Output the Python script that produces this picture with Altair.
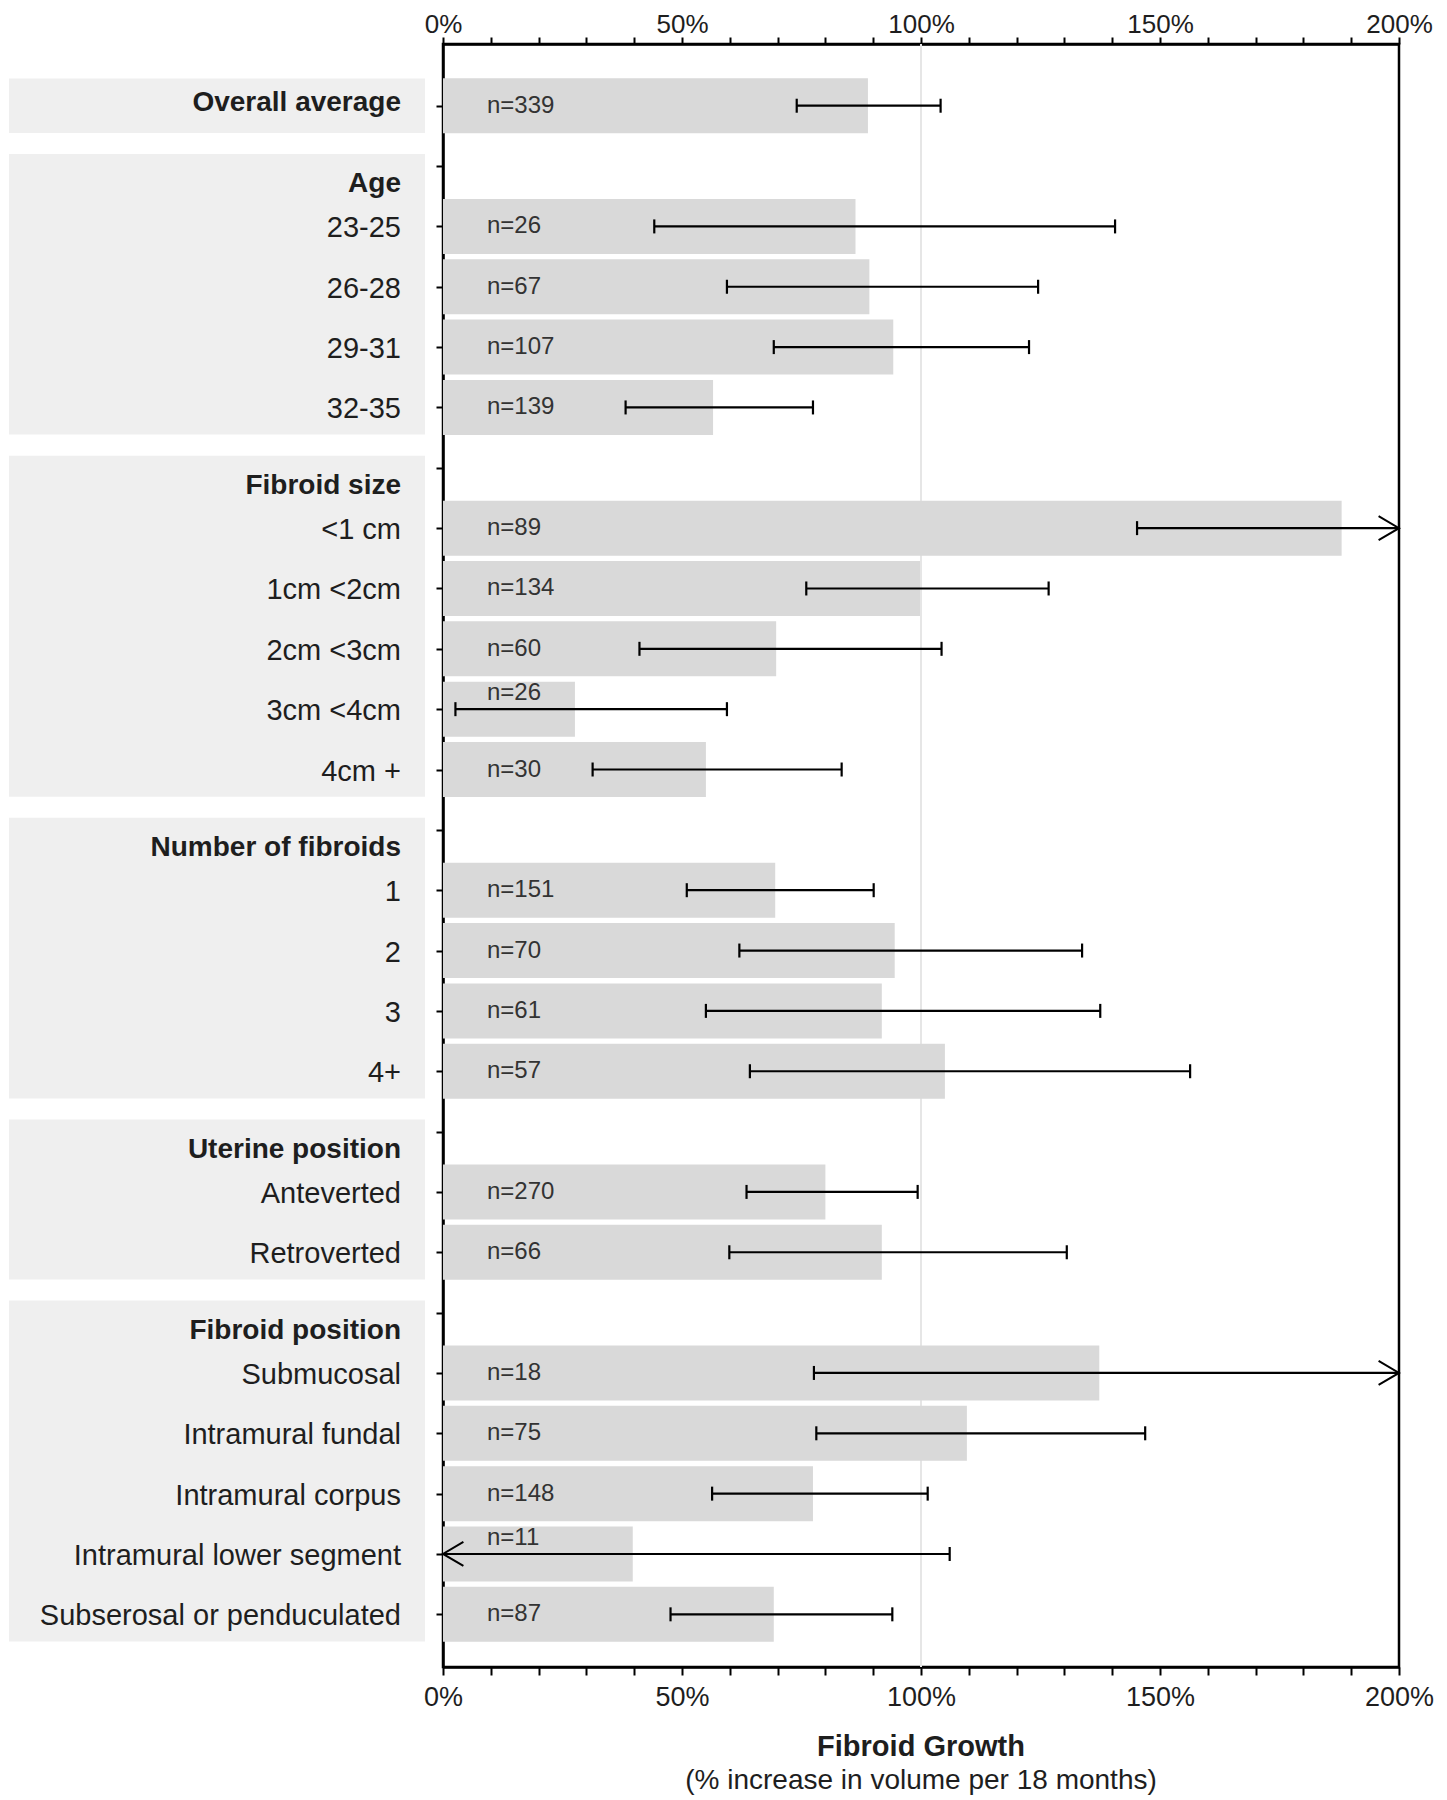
import altair as alt
import pandas as pd

FONT = "Liberation Sans"
TEXT = "#1e1e1e"

categories = [
    "Overall average",
    "Age", "23-25", "26-28", "29-31", "32-35",
    "Fibroid size", "<1 cm", "1cm <2cm", "2cm <3cm", "3cm <4cm", "4cm +",
    "Number of fibroids", "1", "2", "3", "4+",
    "Uterine position", "Anteverted", "Retroverted",
    "Fibroid position", "Submucosal", "Intramural fundal", "Intramural corpus",
    "Intramural lower segment", "Subserosal or penduculated",
]
headers = ["Age", "Fibroid size", "Number of fibroids", "Uterine position", "Fibroid position"]
growth = [88.9, None, 86.3, 89.2, 94.2, 56.5, None, 188.0, 99.8, 69.7, 27.6, 55.0,
          None, 69.5, 94.5, 91.8, 105.0, None, 80.0, 91.8,
          None, 137.3, 109.6, 77.4, 39.7, 69.2]
ci_low = [74.0, None, 44.2, 59.4, 69.2, 38.2, None, 145.2, 76.0, 41.1, 2.6, 31.3,
          None, 51.0, 62.0, 55.0, 64.2, None, 63.5, 59.9,
          None, 77.6, 78.1, 56.3, -20.0, 47.6]
ci_high = [104.1, None, 140.6, 124.5, 122.6, 77.4, None, 240.0, 126.7, 104.3, 59.4, 83.4,
           None, 90.1, 133.7, 137.5, 156.3, None, 99.3, 130.5,
           None, 240.0, 146.9, 101.4, 106.0, 94.0]
n_obs = [339, None, 26, 67, 107, 139, None, 89, 134, 60, 26, 30,
         None, 151, 70, 61, 57, None, 270, 66,
         None, 18, 75, 148, 11, 87]
x_ticks = list(range(0, 201, 10))
x_max = 200
title_main = "Fibroid Growth"
title_sub = "(% increase in volume per 18 months)"

# ---- build tables ----
rows = []
for i, lab in enumerate(categories):
    rows.append({
        "idx": i, "label": lab, "growth": growth[i],
        "lo": ci_low[i], "hi": ci_high[i],
        "n": None if n_obs[i] is None else f"n={n_obs[i]}",
        "kind": "header" if lab in headers else ("bold" if i == 0 else "normal"),
    })
df = pd.DataFrame(rows)
data = df[df["growth"].notna()].copy()
data["lo_c"] = data["lo"].clip(lower=0)
data["hi_c"] = data["hi"].clip(upper=x_max)

caps = pd.concat([
    data[data["lo"] >= 0][["idx", "lo"]].rename(columns={"lo": "x"}),
    data[data["hi"] <= x_max][["idx", "hi"]].rename(columns={"hi": "x"}),
])
arrows_r = data[data["hi"] > x_max][["idx"]].assign(x=x_max)
arrows_l = data[data["lo"] < 0][["idx"]].assign(x=0)

# label group boxes
starts = [0] + [categories.index(h) for h in headers]
ends = starts[1:] + [len(categories)]
boxes = pd.DataFrame({
    "y0": [s - (0.45 if categories[s] not in headers else 0.2) for s in starts],
    "y1": [e - 1 + 0.45 for e in ends],
})

xscale = alt.Scale(domain=[0, x_max], nice=False, zero=True)
yscale = alt.Scale(domain=[-0.94, len(categories) - 0.21], reverse=True, nice=False, zero=False)

label_expr = "datum.value % 50 == 0 ? datum.value + '%' : ''"
axis_common = dict(values=x_ticks, labelExpr=label_expr, tickWidth=2,
                   tickColor="black", domainColor="black", domainWidth=2.5,
                   labelFont=FONT, labelColor=TEXT, grid=False,
                   title=None, labelFlush=False, labelOverlap=False)
top_axis = alt.Axis(orient="top", labelPadding=0, tickSize=7, labelFontSize=26, **axis_common)
bottom_axis = alt.Axis(orient="bottom", labelPadding=9, tickSize=8, labelFontSize=27, **axis_common)
y_axis = alt.Axis(orient="left", values=list(range(len(categories))), labels=False,
                  tickSize=7, tickWidth=2, tickColor="black", domainColor="black",
                  domainWidth=2.5, grid=False, title=None)

box_layer = alt.Chart(boxes).mark_rect(color="#efefef").encode(
    x=alt.value(-434), x2=alt.value(-18),
    y=alt.Y("y0:Q", scale=yscale, axis=None), y2="y1:Q",
)

grid_layer = alt.Chart(pd.DataFrame({"v": [100]})).mark_rule(color="#e6e6e6", strokeWidth=2).encode(
    x=alt.X("v:Q", scale=xscale, axis=None),
)

bar_layer = alt.Chart(data).mark_bar(orient="horizontal", size=55, color="#d9d9d9").encode(
    x=alt.X("growth:Q", scale=xscale, axis=top_axis),
    y=alt.Y("idx:Q", scale=yscale, axis=y_axis),
)

err_layer = alt.Chart(data).mark_rule(color="black", strokeWidth=2.2).encode(
    x=alt.X("lo_c:Q", scale=xscale, axis=bottom_axis), x2="hi_c:Q",
    y=alt.Y("idx:Q", scale=yscale, axis=None),
)

cap_layer = alt.Chart(caps).mark_tick(orient="vertical", size=14, thickness=2.2, color="black", opacity=1).encode(
    x=alt.X("x:Q", scale=xscale, axis=None),
    y=alt.Y("idx:Q", scale=yscale, axis=None),
)

arrow_r_layer = alt.Chart(arrows_r).mark_point(
    shape="M -1.7 -1 L 0 0 L -1.7 1", size=576, filled=False, stroke="black",
    strokeWidth=2, opacity=1).encode(
    x=alt.X("x:Q", scale=xscale, axis=None),
    y=alt.Y("idx:Q", scale=yscale, axis=None),
)
arrow_l_layer = alt.Chart(arrows_l).mark_point(
    shape="M 1.7 -1 L 0 0 L 1.7 1", size=576, filled=False, stroke="black",
    strokeWidth=2, opacity=1).encode(
    x=alt.X("x:Q", scale=xscale, axis=None),
    y=alt.Y("idx:Q", scale=yscale, axis=None),
)

n_base = alt.Chart(data)
n_layer = n_base.transform_filter("datum.lo >= 20").mark_text(
    align="left", baseline="middle", fontSize=24, font=FONT, color="#333333").encode(
    x=alt.value(44), y=alt.Y("idx:Q", scale=yscale, axis=None), text="n:N")
n_layer_up = n_base.transform_filter("datum.lo < 20").mark_text(
    align="left", baseline="middle", fontSize=24, font=FONT, color="#333333", dy=-16).encode(
    x=alt.value(44), y=alt.Y("idx:Q", scale=yscale, axis=None), text="n:N")

lab_base = alt.Chart(df)
lab_normal = lab_base.transform_filter("datum.kind == 'normal'").mark_text(
    align="right", baseline="middle", fontSize=29, font=FONT, color=TEXT, dy=2).encode(
    x=alt.value(-42), y=alt.Y("idx:Q", scale=yscale, axis=None), text="label:N")
lab_bold = lab_base.transform_filter("datum.kind == 'bold'").mark_text(
    align="right", baseline="middle", fontSize=28, font=FONT, fontWeight="bold", color=TEXT, dy=-3).encode(
    x=alt.value(-42), y=alt.Y("idx:Q", scale=yscale, axis=None), text="label:N")
lab_head = lab_base.transform_filter("datum.kind == 'header'").mark_text(
    align="right", baseline="middle", fontSize=28, font=FONT, fontWeight="bold", color=TEXT, dy=18).encode(
    x=alt.value(-42), y=alt.Y("idx:Q", scale=yscale, axis=None), text="label:N")

titles = pd.DataFrame({"t": [title_main, title_sub], "w": ["bold", "normal"]})
t_main = alt.Chart(titles).transform_filter("datum.w == 'bold'").mark_text(
    align="center", baseline="middle", fontSize=29, font=FONT, fontWeight="bold", color=TEXT).encode(
    x=alt.value(478), y=alt.value(1703), text="t:N")
t_sub = alt.Chart(titles).transform_filter("datum.w == 'normal'").mark_text(
    align="center", baseline="middle", fontSize=28, font=FONT, color=TEXT).encode(
    x=alt.value(478), y=alt.value(1737), text="t:N")

chart = alt.layer(
    box_layer, grid_layer, bar_layer, err_layer, cap_layer, arrow_r_layer, arrow_l_layer,
    n_layer, n_layer_up, lab_normal, lab_bold, lab_head, t_main, t_sub,
).properties(
    width=956, height=1623,
    padding={"left": 435, "top": 36, "right": 40, "bottom": 133},
    autosize=alt.AutoSizeParams(type="none"),
).resolve_axis(x="independent", y="independent").configure_view(
    stroke="black", strokeWidth=2.5
)

chart.save("out.html", embed_options={"renderer": "svg", "actions": False})
